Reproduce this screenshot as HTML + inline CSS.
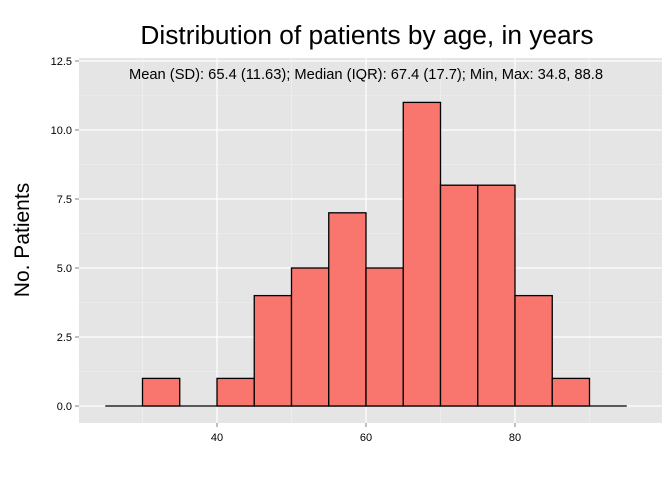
<!DOCTYPE html>
<html><head><meta charset="utf-8"><style>
body{margin:0;background:#fff;}
svg{display:block;font-family:"Liberation Sans",sans-serif;}
</style></head><body>
<svg id="chart" width="672" height="480">
<rect x="79" y="58" width="583" height="365" fill="#e5e5e5"/>
<g id="grid"></g><g id="bars"></g><g id="axes"></g>
<text x="367" y="44" text-anchor="middle" font-size="26.3" fill="#000">Distribution of patients by age, in years</text>
<text x="366" y="79" text-anchor="middle" font-size="14.7" fill="#000">Mean (SD): 65.4 (11.63); Median (IQR): 67.4 (17.7); Min, Max: 34.8, 88.8</text>
<text transform="translate(29,240) rotate(-90)" text-anchor="middle" font-size="21">No. Patients</text>
</svg>
<script>
const binStarts=[25,30,35,40,45,50,55,60,65,70,75,80,85,90];
const counts=[0,1,0,1,4,5,7,5,11,8,8,4,1,0];
const yTicks=[0,2.5,5,7.5,10,12.5];
const yTickLabels=["0.0","2.5","5.0","7.5","10.0","12.5"];
const xTicks=[40,60,80];
const xMinor=[30,50,70,90];
const binWidth=5;
const X=v=>217+(v-40)*7.45;
const Y=v=>406-v*27.6;
const NS="http://www.w3.org/2000/svg";
function mk(tag,attrs,parent){const e=document.createElementNS(NS,tag);for(const k in attrs)e.setAttribute(k,attrs[k]);document.getElementById(parent).appendChild(e);return e;}
const L=79,R=662,T=58,B=423;
for(let i=0;i<yTicks.length-1;i++){const m=(yTicks[i]+yTicks[i+1])/2;
 const g=mk('line',{x1:L,x2:R,y1:Y(m),y2:Y(m),stroke:'#f2f2f2','stroke-width':0.6},'grid');
 }
xMinor.forEach(v=>{const g=mk('line',{x1:X(v),x2:X(v),y1:T,y2:B,stroke:'#f2f2f2','stroke-width':0.6},'grid');
 });
yTicks.forEach((v,i)=>{const g=mk('line',{x1:L,x2:R,y1:Y(v),y2:Y(v),stroke:'#fff','stroke-width':1.2},'grid');
 
 const t=mk('line',{x1:L-4,x2:L,y1:Y(v),y2:Y(v),stroke:'#7f7f7f'},'axes');
 
 const l=mk('text',{x:L-7,y:Y(v)+4,'text-anchor':'end','font-size':11,fill:'#000'},'axes');l.textContent=yTickLabels[i];
 });
xTicks.forEach(v=>{const g=mk('line',{x1:X(v),x2:X(v),y1:T,y2:B,stroke:'#fff','stroke-width':1.2},'grid');
 
 const t=mk('line',{x1:X(v),x2:X(v),y1:B,y2:B+4,stroke:'#7f7f7f'},'axes');
 
 const l=mk('text',{x:X(v),y:B+18,'text-anchor':'middle','font-size':11,fill:'#000'},'axes');l.textContent=v;
 });
const base=mk('line',{x1:X(binStarts[0]),x2:X(binStarts[binStarts.length-1]+binWidth),y1:Y(0),y2:Y(0),stroke:'#000','stroke-width':1.3},'bars');


binStarts.forEach((s,i)=>{const c=counts[i];
 const r=mk('rect',{x:X(s),y:Y(c),width:X(s+binWidth)-X(s),height:Y(0)-Y(c),fill:'#f8766d',stroke:'#000','stroke-width':1.3},'bars');
 });
</script>
</body></html>
